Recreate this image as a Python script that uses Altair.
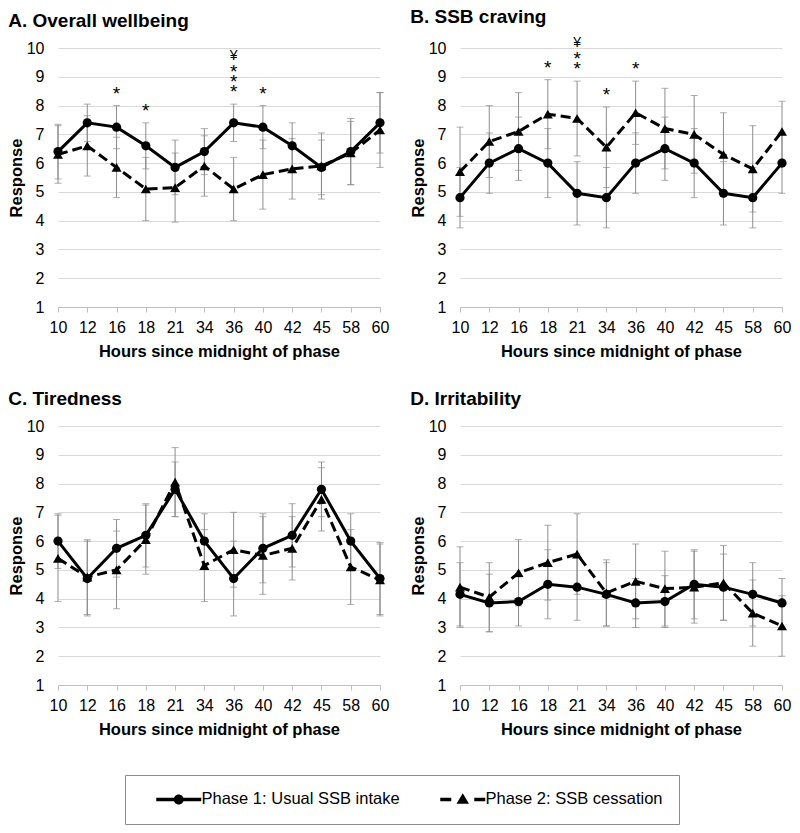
import altair as alt
import pandas as pd

hours = ["10", "12", "16", "18", "21", "34", "36", "40", "42", "45", "58", "60"]
series_names = ["Phase 1: Usual SSB intake", "Phase 2: SSB cessation"]
panel_titles = ["A. Overall wellbeing", "B. SSB craving", "C. Tiredness", "D. Irritability"]

# A. Overall wellbeing
a_p1 = [6.4, 7.4, 7.25, 6.6, 5.85, 6.4, 7.4, 7.25, 6.6, 5.85, 6.4, 7.4]
a_p1_err = [0.95, 0.65, 0.75, 0.8, 0.95, 0.8, 0.65, 0.75, 0.8, 0.95, 1.15, 1.05]
a_p2 = [6.3, 6.6, 5.85, 5.1, 5.15, 5.9, 5.1, 5.6, 5.8, 5.9, 6.35, 7.15]
a_p2_err = [1.0, 1.05, 1.05, 1.1, 1.2, 1.05, 1.1, 1.2, 1.05, 1.15, 1.1, 1.3]
a_ann_hours = ["16", "18", "36", "40"]
a_ann_stars = [1, 1, 3, 1]
a_ann_yen = [0, 0, 1, 0]

# B. SSB craving
b_p1 = [4.8, 6.0, 6.5, 6.0, 4.95, 4.8, 6.0, 6.5, 6.0, 4.95, 4.8, 6.0]
b_p1_err = [1.05, 1.05, 1.1, 1.2, 1.1, 1.05, 1.05, 1.1, 1.2, 1.1, 1.05, 1.05]
b_p2 = [5.7, 6.75, 7.1, 7.7, 7.55, 6.55, 7.75, 7.2, 7.0, 6.3, 5.8, 7.1]
b_p2_err = [1.55, 1.25, 1.35, 1.2, 1.3, 1.4, 1.1, 1.4, 1.35, 1.45, 1.5, 1.05]
b_ann_hours = ["18", "21", "34", "36"]
b_ann_stars = [1, 2, 1, 1]
b_ann_yen = [0, 1, 0, 0]

# C. Tiredness
c_p1 = [6.0, 4.7, 5.75, 6.2, 7.8, 6.0, 4.7, 5.75, 6.2, 7.8, 6.0, 4.7]
c_p1_err = [0.95, 1.3, 1.0, 1.1, 0.95, 0.95, 1.3, 1.2, 1.1, 0.95, 0.95, 1.25]
c_p2 = [5.4, 4.75, 5.0, 6.05, 8.05, 5.15, 5.7, 5.5, 5.75, 7.45, 5.1, 4.65]
c_p2_err = [1.5, 1.3, 1.35, 1.2, 1.2, 1.25, 1.3, 1.35, 1.1, 1.1, 1.3, 1.25]

# D. Irritability
d_p1 = [4.15, 3.85, 3.9, 4.5, 4.4, 4.15, 3.85, 3.9, 4.5, 4.4, 4.15, 3.85]
d_p1_err = [1.1, 1.0, 0.85, 1.2, 1.15, 1.1, 0.85, 0.9, 1.2, 1.15, 1.1, 0.85]
d_p2 = [4.4, 4.05, 4.9, 5.25, 5.55, 4.2, 4.6, 4.35, 4.4, 4.55, 3.5, 3.05]
d_p2_err = [1.4, 1.2, 1.15, 1.3, 1.4, 1.15, 1.3, 1.3, 1.25, 1.3, 1.15, 1.05]

# legend symbols (line with marker), drawn as custom symbol paths
legend_paths = [
    "M1.4,-0.35 H10.4 V0.35 H1.4 Z M4.9,0 A1,1 0 1,1 6.9,0 A1,1 0 1,1 4.9,0 Z",
    "M1.4,-0.35 H3.6 V0.35 H1.4 Z M4.65,0.85 L5.9,-1.25 L7.15,0.85 Z "
    "M8.2,-0.35 H10.4 V0.35 H8.2 Z",
]

FONT = "Liberation Sans"
BAR_COLOR = "#8c8c8c"
W, H = 322, 259
Y_AXIS = alt.Axis(values=list(range(1, 11)), labelOverlap=False)


def long_df(p1, p1e, p2, p2e):
    rows = []
    for name, m, e in [(series_names[0], p1, p1e), (series_names[1], p2, p2e)]:
        for h, v, err in zip(hours, m, e):
            rows.append({"hour": h, "series": name, "mean": v,
                         "lo": v - err, "hi": v + err})
    return pd.DataFrame(rows)


def panel(title, p1, p1e, p2, p2e, ann=None, with_legend=False):
    df = long_df(p1, p1e, p2, p2e)
    x = alt.X("hour:O", sort=hours, title="Hours since midnight of phase",
              scale=alt.Scale(type="point", padding=0))
    yscale = alt.Scale(domain=[1, 10], nice=False, zero=False)

    def Y(field):
        return alt.Y(field, scale=yscale, title="Response", axis=Y_AXIS)

    base = alt.Chart(df)
    rules = base.mark_rule(color=BAR_COLOR, strokeWidth=1).encode(
        x=x, y=Y("lo:Q"), y2="hi:Q")
    cap_hi = base.mark_tick(color=BAR_COLOR, size=7, thickness=1).encode(x=x, y=Y("hi:Q"))
    cap_lo = base.mark_tick(color=BAR_COLOR, size=7, thickness=1).encode(x=x, y=Y("lo:Q"))
    s1 = base.transform_filter(alt.datum.series == series_names[0])
    s2 = base.transform_filter(alt.datum.series == series_names[1])
    line1 = s1.mark_line(color="black", strokeWidth=3).encode(x=x, y=Y("mean:Q"))
    line2 = s2.mark_line(color="black", strokeWidth=3, strokeDash=[10, 5]).encode(
        x=x, y=Y("mean:Q"))
    pts1 = s1.mark_point(shape="circle", filled=True, size=85, color="black",
                         opacity=1).encode(x=x, y=Y("mean:Q"))
    pts2 = s2.mark_point(shape="triangle-up", filled=True, size=100, color="black",
                         opacity=1).encode(x=x, y=Y("mean:Q"))
    layers = [rules, cap_hi, cap_lo, line2, line1, pts2, pts1]
    if ann:
        ann_h, ann_s, ann_y = ann
        top = df.groupby("hour")["hi"].max()
        rows = []
        for h, ns, ny in zip(ann_h, ann_s, ann_y):
            for lvl in range(ns):
                rows.append({"hour": h, "sym": "*", "level": lvl, "top": top[h]})
            if ny:
                rows.append({"hour": h, "sym": "¥", "level": ns, "top": top[h]})
        adf = pd.DataFrame(rows)
        for (sym, lvl) in sorted(set(zip(adf["sym"], adf["level"]))):
            if sym == "*":
                fs, dy = 19, -6 - 10 * lvl
            else:
                fs, dy = 14, -24 - 10 * (lvl - 1)
            t = alt.Chart(adf).transform_filter(
                (alt.datum.sym == sym) & (alt.datum.level == lvl)
            ).mark_text(fontSize=fs, baseline="alphabetic", dy=dy, color="black",
                        font=FONT).encode(x=x, y=Y("top:Q"), text="sym:N")
            layers.append(t)
    if with_legend:
        # invisible markers at the first hour only; they only feed the legend
        leg = base.transform_filter(alt.datum.hour == hours[0]).mark_point(
            filled=True, size=100, color="black", opacity=0).encode(
            x=x, y=Y("mean:Q"),
            shape=alt.Shape("series:N", title=None,
                            scale=alt.Scale(domain=series_names, range=legend_paths),
                            legend=alt.Legend(
                                orient="none", legendX=67, legendY=727,
                                direction="horizontal", symbolSize=100,
                                symbolOpacity=1, symbolFillColor="black",
                                symbolStrokeWidth=0, labelFontSize=16.5,
                                labelFont=FONT, labelOffset=44, columnPadding=25,
                                padding=16, strokeColor="#8c8c8c", fillColor="white",
                                labelLimit=400)))
        layers.append(leg)
    return alt.layer(*layers).properties(
        width=W, height=H,
        title=alt.TitleParams(title, anchor="start", frame="bounds", fontSize=19,
                              fontWeight="bold", font=FONT, offset=9, color="black"))


pa = panel(panel_titles[0], a_p1, a_p1_err, a_p2, a_p2_err,
           (a_ann_hours, a_ann_stars, a_ann_yen))
pb = panel(panel_titles[1], b_p1, b_p1_err, b_p2, b_p2_err,
           (b_ann_hours, b_ann_stars, b_ann_yen))
pc = panel(panel_titles[2], c_p1, c_p1_err, c_p2, c_p2_err)
pd_ = panel(panel_titles[3], d_p1, d_p1_err, d_p2, d_p2_err, with_legend=True)

chart = alt.vconcat(
    alt.hconcat(pa, pb, spacing=21),
    alt.hconcat(pc, pd_, spacing=21),
    spacing=30,
).properties(
    padding={"left": 0, "top": 0, "right": 0, "bottom": 0}
).configure(font=FONT).configure_view(stroke=None).configure_axisY(
    grid=True, gridColor="#d9d9d9", gridWidth=1.2, domain=False, ticks=False,
    tickSize=0, labelFontSize=16, labelColor="black", labelPadding=14,
    titleFontSize=16.5, titleFontWeight="bold", titleColor="black", titlePadding=2,
    labelFont=FONT, titleFont=FONT
).configure_axisX(
    grid=False, domainColor="#bfbfbf", domainWidth=1.2, tickColor="#bfbfbf",
    tickSize=5, labelAngle=0, labelFontSize=16, labelColor="black", labelPadding=7,
    titleFontSize=16.5, titleFontWeight="bold", titleColor="black", titlePadding=8,
    labelFont=FONT, titleFont=FONT
)

chart.save("out.html", embed_options={"renderer": "svg", "actions": False})
